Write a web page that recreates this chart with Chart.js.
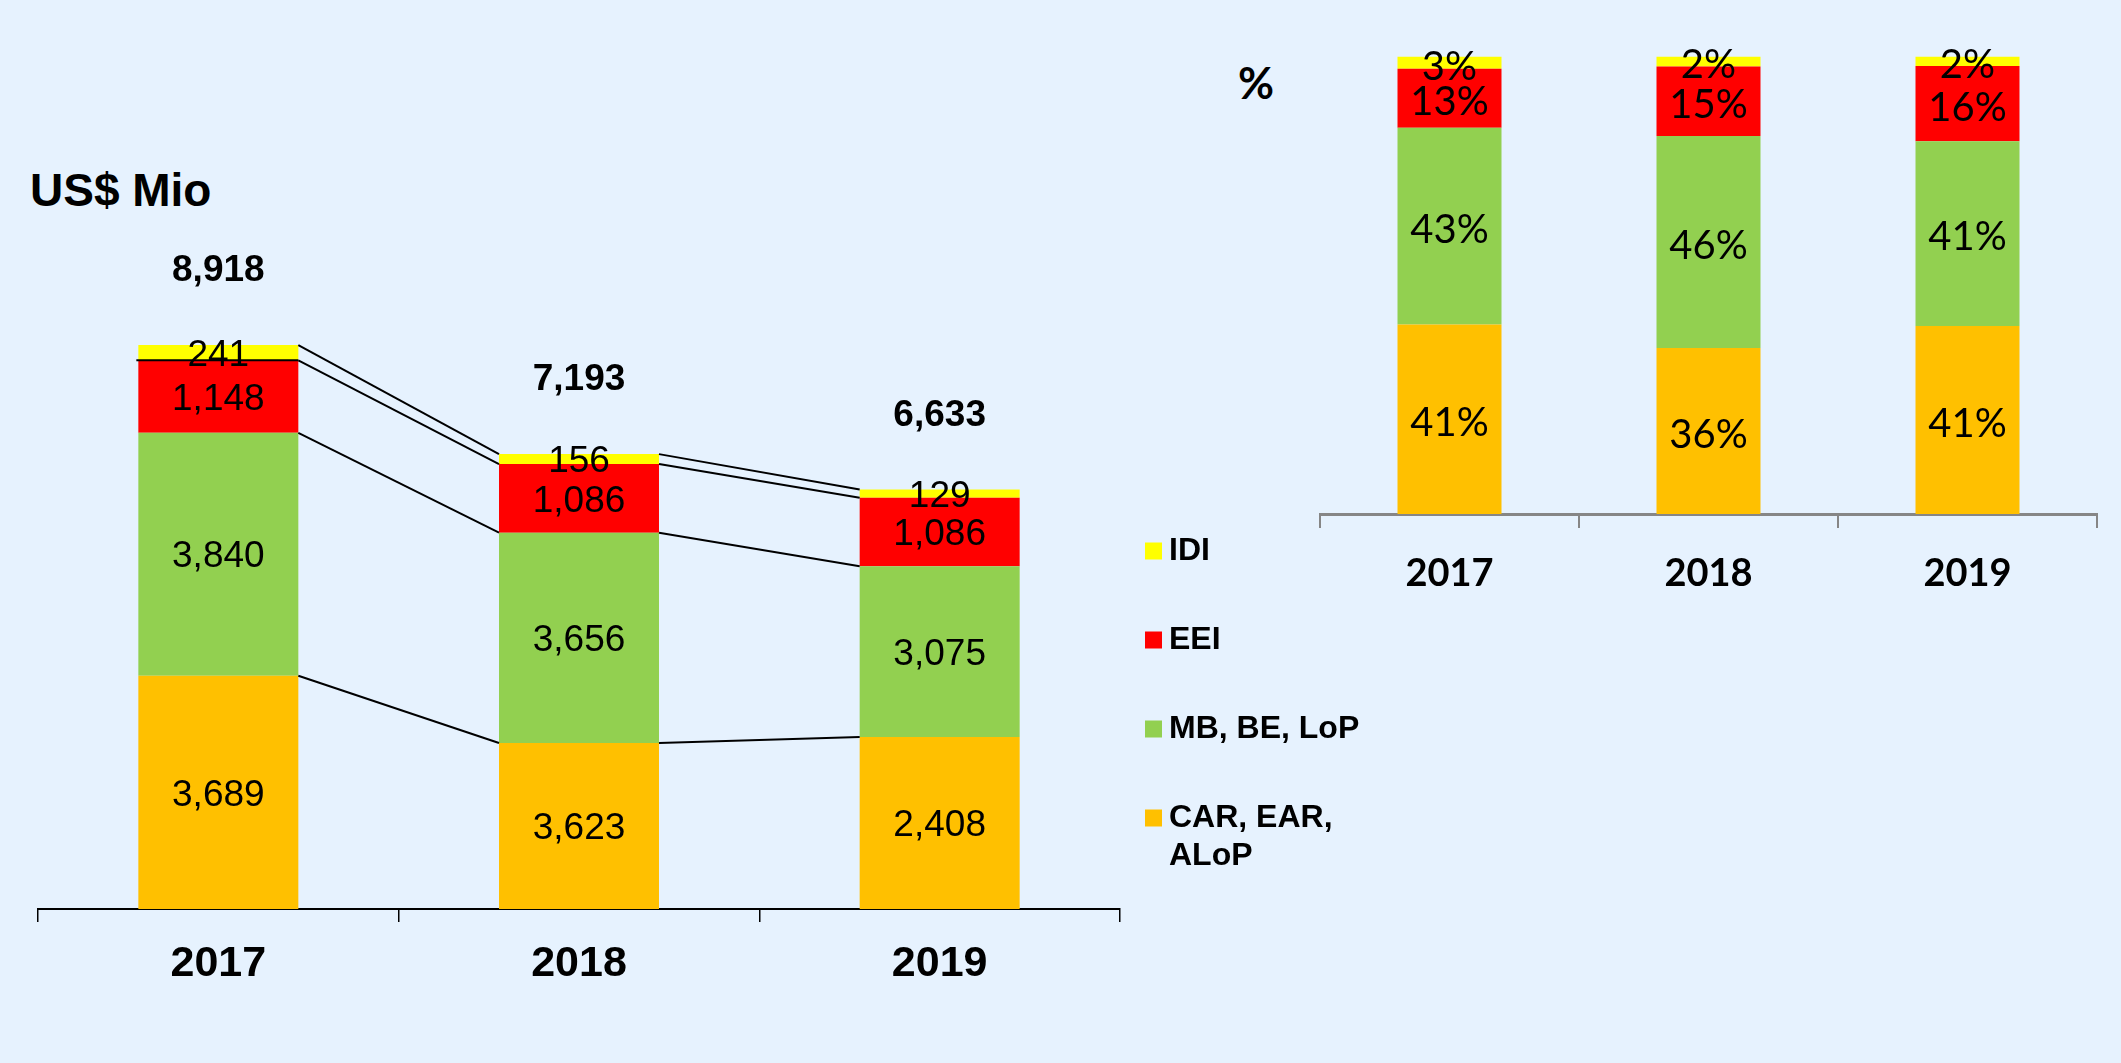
<!DOCTYPE html>
<html>
<head>
<meta charset="utf-8">
<script src="https://cdn.jsdelivr.net/npm/chart.js@4.4.1/dist/chart.umd.min.js"></script>
<style>
  html, body { margin: 0; padding: 0; background: #E6F2FE; }
  body { width: 2121px; height: 1063px; position: relative; overflow: hidden; }
  #mioWrap { position: absolute; left: 0; top: 0; }
  #pctWrap { position: absolute; left: 1230px; top: 0; }
  .unit { position: absolute; font-weight: bold; color: #000; white-space: nowrap; line-height: 1; }
  #mioUnit { left: 30px; top: 163px; font: bold 46px 'Liberation Sans', Arial, sans-serif; }
  #pctUnit { left: 1226px; top: 56px; width: 60px; text-align: center; font: bold 44px Lato, 'Liberation Sans', sans-serif; }
</style>
</head>
<body>
<div class="unit" id="mioUnit">US$ Mio</div>
<div class="unit" id="pctUnit">%</div>
<div id="mioWrap"><canvas id="mioChart" width="1420" height="1063"></canvas></div>
<div id="pctWrap"><canvas id="pctChart" width="891" height="1063"></canvas></div>
<script>
// categories
const years = ['2017', '2018', '2019'];

// US$ Mio - bar heights as drawn
const carValues = [3689, 2625, 2720];
const mbValues = [3840, 3325, 2700];
const eeiValues = [1148, 1085, 1083];
const idiValues = [241, 158, 130];

// US$ Mio - labels as printed on the bars
const carLabels = ['3,689', '3,623', '2,408'];
const mbLabels = ['3,840', '3,656', '3,075'];
const eeiLabels = ['1,148', '1,086', '1,086'];
const idiLabels = ['241', '156', '129'];
const totalLabels = ['8,918', '7,193', '6,633'];

// share in % (bar heights) and printed labels
const carPct = [41.4, 36.3, 41.1];
const mbPct = [43.0, 46.3, 40.4];
const eeiPct = [12.9, 15.2, 16.4];
const idiPct = [2.7, 2.2, 2.1];
const carPctLabels = ['41%', '36%', '41%'];
const mbPctLabels = ['43%', '46%', '41%'];
const eeiPctLabels = ['13%', '15%', '16%'];
const idiPctLabels = ['3%', '2%', '2%'];

const seriesNames = ['CAR, EAR,\nALoP', 'MB, BE, LoP', 'EEI', 'IDI'];
const seriesColors = ['#FFC000', '#92D050', '#FF0000', '#FFFF00'];

const arial = "'Liberation Sans', Arial, sans-serif";
const calibriLike = "Lato, 'Liberation Sans', sans-serif";

// labels in the middle of every segment, and totals above the stack
const segmentLabels = {
    id: 'segmentLabels',
    afterDatasetsDraw(chart, args, opts) {
        const ctx = chart.ctx;
        const shift = opts.shift || 0;
        ctx.save();
        ctx.fillStyle = '#000';
        ctx.textAlign = 'center';
        ctx.textBaseline = 'middle';
        ctx.font = opts.font;
        chart.data.datasets.forEach((ds, i) => {
            const meta = chart.getDatasetMeta(i);
            meta.data.forEach((bar, j) => {
                ctx.fillText(ds.printed[j], bar.x, (bar.y + bar.base) / 2 + shift);
            });
        });
        if (opts.totals) {
            const top = chart.getDatasetMeta(chart.data.datasets.length - 1);
            ctx.font = opts.totalFont;
            top.data.forEach((bar, j) => {
                ctx.fillText(opts.totals[j], bar.x, bar.y - opts.totalGap);
            });
        }
        ctx.restore();
    }
};

// thin lines joining the segment tops from one year to the next
const connectors = {
    id: 'connectors',
    afterDatasetsDraw(chart) {
        const ctx = chart.ctx;
        ctx.save();
        ctx.strokeStyle = '#000';
        ctx.lineWidth = 2;
        chart.data.datasets.forEach((ds, i) => {
            const bars = chart.getDatasetMeta(i).data;
            for (let j = 0; j < bars.length - 1; j++) {
                const a = bars[j], b = bars[j + 1];
                ctx.beginPath();
                ctx.moveTo(a.x + a.width / 2, a.y);
                ctx.lineTo(b.x - b.width / 2, b.y);
                ctx.stroke();
            }
        });
        // the EEI top edge of the first bar carries a line across
        const first = chart.getDatasetMeta(2).data[0];
        ctx.beginPath();
        ctx.moveTo(first.x - first.width / 2 - 2, first.y);
        ctx.lineTo(first.x + first.width / 2, first.y);
        ctx.stroke();
        ctx.restore();
    }
};

// legend stacked at the right of the first chart
const sideLegend = {
    id: 'sideLegend',
    afterDraw(chart, args, opts) {
        const ctx = chart.ctx;
        ctx.save();
        ctx.font = opts.font;
        ctx.textAlign = 'left';
        ctx.textBaseline = 'middle';
        const items = chart.data.datasets.slice().reverse();
        items.forEach((ds, k) => {
            const cy = opts.top + k * opts.step;
            ctx.fillStyle = ds.backgroundColor;
            ctx.fillRect(opts.x, cy - opts.box / 2, opts.box, opts.box);
            ctx.fillStyle = '#000';
            ds.label.split('\n').forEach((line, n) => {
                ctx.fillText(line, opts.x + opts.box + 7, cy + n * opts.lineGap);
            });
        });
        ctx.restore();
    }
};

function makeDatasets(values, labels, barPct) {
    return values.map((v, i) => ({
        label: seriesNames[i],
        data: v,
        printed: labels[i],
        backgroundColor: seriesColors[i],
        borderWidth: 0,
        categoryPercentage: 1,
        barPercentage: barPct
    }));
}

new Chart(document.getElementById('mioChart'), {
    type: 'bar',
    data: {
        labels: years,
        datasets: makeDatasets(
            [carValues, mbValues, eeiValues, idiValues],
            [carLabels, mbLabels, eeiLabels, idiLabels],
            0.4436
        )
    },
    options: {
        responsive: false,
        animation: false,
        layout: { padding: { left: 38, right: 300, top: 276.6, bottom: 0 } },
        plugins: {
            legend: { display: false },
            tooltip: { enabled: false },
            segmentLabels: {
                font: '37px ' + arial,
                shift: 3,
                totals: totalLabels,
                totalFont: 'bold 37px ' + arial,
                totalGap: 74
            },
            sideLegend: { font: 'bold 32px ' + arial, x: 1145, top: 551, step: 89, box: 17, lineGap: 38 }
        },
        scales: {
            x: {
                stacked: true,
                afterFit: (scale) => { scale.height = 154; },
                grid: { drawOnChartArea: false, drawTicks: true, tickLength: 13, color: '#000', lineWidth: 1.5 },
                border: { display: true, color: '#000', width: 2 },
                ticks: { color: '#000', padding: 16, font: { family: arial, size: 43, weight: 'bold' } }
            },
            y: { stacked: true, display: false, min: 0, max: 10000 }
        }
    },
    plugins: [connectors, segmentLabels, sideLegend]
});

new Chart(document.getElementById('pctChart'), {
    type: 'bar',
    data: {
        labels: years,
        datasets: makeDatasets(
            [carPct, mbPct, eeiPct, idiPct],
            [carPctLabels, mbPctLabels, eeiPctLabels, idiPctLabels],
            0.4015
        )
    },
    options: {
        responsive: false,
        animation: false,
        layout: { padding: { left: 90, right: 24, top: 56.5, bottom: 0 } },
        plugins: {
            legend: { display: false },
            tooltip: { enabled: false },
            segmentLabels: { font: '40px ' + calibriLike, shift: 4 }
        },
        scales: {
            x: {
                stacked: true,
                afterFit: (scale) => { scale.height = 549; },
                grid: { drawOnChartArea: false, drawTicks: true, tickLength: 14, color: '#868686', lineWidth: 2 },
                border: { display: true, color: '#868686', width: 3 },
                ticks: { color: '#000', padding: 23, font: { family: calibriLike, size: 38, weight: 'bold' } }
            },
            y: { stacked: true, display: false, min: 0, max: 100 }
        }
    },
    plugins: [segmentLabels]
});
</script>
</body>
</html>
